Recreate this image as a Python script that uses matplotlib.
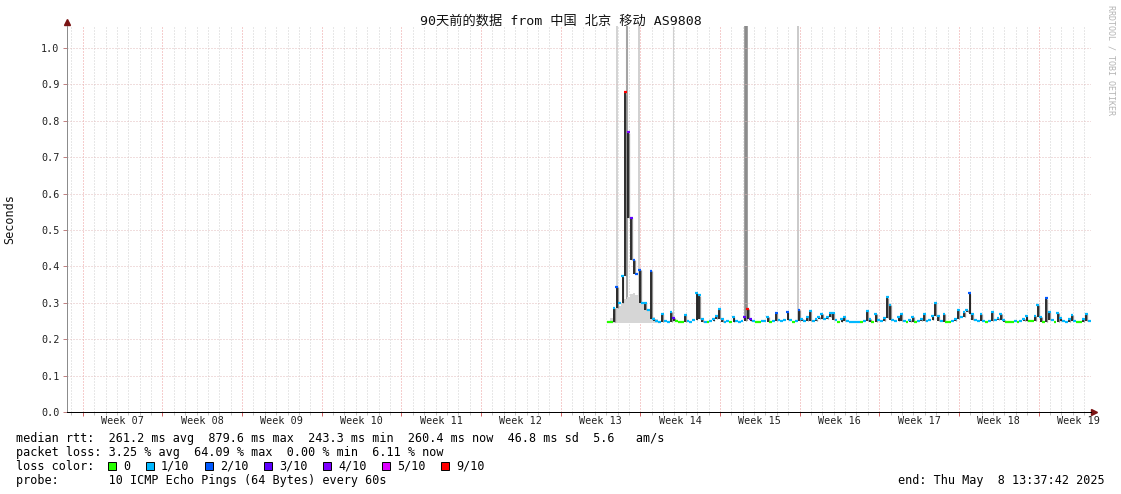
import matplotlib
matplotlib.use("Agg")
import matplotlib.pyplot as plt
from matplotlib.collections import LineCollection
from matplotlib.patches import Rectangle
from datetime import datetime, timedelta

W, H = 1121, 494
MONO = ['DejaVu Sans Mono', 'Noto Sans CJK SC']
FS = 8.5

# ---- data -------------------------------------------------------------
title = "90天前的数据 from 中国 北京 移动 AS9808"
end_time = datetime(2025, 5, 8, 13, 37, 42)
span_days = 90
first_sample = datetime(2025, 3, 27, 1, 37, 42)
sample_hours = 6

# median rtt (seconds), one value per 6h step
rtt_median = [
    0.247, 0.248, 0.286, 0.344, 0.300, 0.373, 0.879, 0.770, 0.534, 0.418,
    0.380, 0.390, 0.300, 0.300, 0.280, 0.388, 0.255, 0.250, 0.248, 0.270,
    0.250, 0.248, 0.275, 0.258, 0.250, 0.247, 0.248, 0.266, 0.250, 0.248,
    0.252, 0.327, 0.320, 0.255, 0.248, 0.247, 0.250, 0.255, 0.265, 0.283,
    0.255, 0.248, 0.250, 0.247, 0.262, 0.250, 0.248, 0.250, 0.262, 0.283,
    0.255, 0.250, 0.247, 0.247, 0.250, 0.250, 0.262, 0.247, 0.250, 0.272,
    0.252, 0.250, 0.252, 0.275, 0.252, 0.248, 0.250, 0.280, 0.255, 0.250,
    0.262, 0.277, 0.250, 0.256, 0.262, 0.270, 0.256, 0.262, 0.272, 0.272,
    0.252, 0.248, 0.255, 0.262, 0.250, 0.247, 0.247, 0.247, 0.247, 0.247,
    0.250, 0.278, 0.255, 0.248, 0.270, 0.252, 0.250, 0.258, 0.315, 0.295,
    0.252, 0.250, 0.262, 0.270, 0.250, 0.247, 0.252, 0.260, 0.248, 0.250,
    0.255, 0.270, 0.250, 0.252, 0.265, 0.300, 0.265, 0.250, 0.270, 0.248,
    0.248, 0.250, 0.255, 0.280, 0.260, 0.275, 0.280, 0.326, 0.270, 0.252,
    0.250, 0.270, 0.250, 0.247, 0.250, 0.275, 0.252, 0.258, 0.270, 0.252,
    0.247, 0.247, 0.247, 0.250, 0.248, 0.250, 0.255, 0.265, 0.250, 0.250,
    0.265, 0.294, 0.262, 0.248, 0.312, 0.275, 0.252, 0.248, 0.272, 0.258,
    0.250, 0.248, 0.255, 0.266, 0.250, 0.247, 0.247, 0.255, 0.270, 0.250,
]
# lost pings out of 10 for each step
loss_count = [
    0, 0, 1, 2, 1, 1, 9, 4, 3, 2,
    2, 2, 1, 1, 1, 2, 1, 1, 1, 1,
    1, 1, 1, 3, 0, 0, 0, 1, 1, 1,
    1, 1, 1, 1, 1, 0, 1, 1, 1, 1,
    1, 1, 1, 0, 1, 1, 1, 1, 3, 9,
    3, 1, 0, 0, 1, 1, 1, 0, 1, 2,
    1, 1, 1, 2, 1, 0, 1, 2, 1, 1,
    1, 1, 1, 1, 1, 1, 1, 1, 1, 1,
    1, 0, 1, 1, 1, 1, 1, 1, 1, 0,
    1, 1, 1, 0, 1, 1, 1, 1, 1, 1,
    1, 1, 1, 1, 1, 0, 1, 1, 0, 1,
    1, 1, 1, 1, 1, 1, 1, 1, 1, 0,
    0, 1, 1, 1, 1, 1, 1, 2, 1, 1,
    1, 1, 1, 0, 1, 1, 1, 1, 1, 1,
    0, 0, 0, 1, 0, 1, 1, 1, 0, 0,
    1, 1, 1, 0, 2, 1, 1, 0, 1, 1,
    1, 1, 1, 1, 1, 0, 0, 1, 1, 1,
]
# upper edge of the light smoke during the first unstable days
early_smoke = [0.250, 0.258, 0.270, 0.280, 0.290, 0.300, 0.310, 0.315, 0.325, 0.327,
               0.320, 0.317, 0.300, 0.290, 0.280, 0.270, 0.260, 0.255, 0.250]
# unknown data (hours after first sample)
unknown_hours = [21, 41.5, 67, 138.5, 292.5, 402]

loss_labels = ["0", "1/10", "2/10", "3/10", "4/10", "5/10", "9/10"]
loss_levels = [0, 1, 2, 3, 4, 5, 9]

median_line = "median rtt:  261.2 ms avg  879.6 ms max  243.3 ms min  260.4 ms now  46.8 ms sd  5.6   am/s"
loss_line = "packet loss: 3.25 % avg  64.09 % max  0.00 % min  6.11 % now"
probe_line = "probe:       10 ICMP Echo Pings (64 Bytes) every 60s"
end_line = "end: Thu May  8 13:37:42 2025"

# ---- styles -----------------------------------------------------------
loss_colors = {0: '#26ff00', 1: '#00b8ff', 2: '#0059ff', 3: '#5e00ff',
               4: '#7e00ff', 5: '#dd00ff', 9: '#ff0000'}
unknown_colors = ['#c8c8c8', '#a4a4a4', '#c4c4c4', '#d0d0d0', '#8c8c8c', '#bcbcbc']
unknown_widths = [1.1, 1.5, 1.1, 0.8, 2.6, 1.1]
WEEK_GRID = '#ec9c9c'
HOR_GRID = '#e2bcbc'
GRAY_GRID = '#d0d0d0'

start_time = end_time - timedelta(days=span_days)


def days(ts):
    return (ts - start_time).total_seconds() / 86400.0


fig = plt.figure(figsize=(W / 100, H / 100), dpi=100)
ax = fig.add_axes([66.5 / W, (H - 412) / H, 1024 / W, 386 / H])
ax.set_xlim(0, span_days)
ax.set_ylim(0, 1.06)

# grid: days (minor) and weeks starting Sunday (major)
day_ticks, week_ticks = [], []
d = datetime(start_time.year, start_time.month, start_time.day) + timedelta(days=1)
while d < end_time:
    if d.weekday() == 6:
        week_ticks.append(d)
    else:
        day_ticks.append(d)
    d += timedelta(days=1)

ax.set_xticks([days(w) for w in week_ticks])
ax.set_xticks([days(x) for x in day_ticks], minor=True)
ax.set_xticklabels([])
ax.tick_params(axis='x', which='major', length=3, width=0.7, color='#d06060')
ax.tick_params(axis='x', which='minor', length=2, width=0.7, color='#c0c0c0')
ax.grid(axis='x', which='minor', color=GRAY_GRID, lw=0.72, ls=(0, (1, 2)), zorder=0)
ax.grid(axis='x', which='major', color=WEEK_GRID, lw=0.72, ls=(0, (1, 2)), zorder=0)

yt = [i / 10 for i in range(11)]
ax.set_yticks(yt)
ax.set_yticklabels([f"{v:.1f}" for v in yt], fontfamily=MONO, fontsize=7.3, color='#222222')
ax.tick_params(axis='y', length=3, width=0.7, color='#c08080', pad=2)
ax.grid(axis='y', which='major', color=HOR_GRID, lw=0.72, ls=(0, (1, 2)), zorder=0)

for w in week_ticks:
    mid = w + timedelta(days=3.5)
    if mid < end_time:
        ax.text(days(mid), -9 / 386, "Week %02d" % mid.isocalendar()[1],
                transform=ax.get_xaxis_transform(), ha='center', va='center',
                fontfamily=MONO, fontsize=7.3, color='#222222')

for s in ('top', 'right'):
    ax.spines[s].set_visible(False)
ax.spines['left'].set_color('#8c8c8c')
ax.spines['left'].set_linewidth(0.72)
ax.spines['bottom'].set_color('#000000')
ax.spines['bottom'].set_linewidth(0.72)

# axis arrows
ax.plot([1, 1.0035], [0, 0], transform=ax.transAxes, color='black', lw=0.72, clip_on=False)
ax.plot([1.0035], [0], marker='>', ms=4, color='#7a1414', transform=ax.transAxes, clip_on=False)
ax.plot([0, 0], [1, 1.01], transform=ax.transAxes, color='#8c8c8c', lw=0.72, clip_on=False)
ax.plot([0], [1.0104], marker='^', ms=4, color='#7a1414', transform=ax.transAxes, clip_on=False)

# ---- series -----------------------------------------------------------
step = sample_hours / 24.0
t0 = days(first_sample)
n = len(rtt_median)
t = [t0 + i * step for i in range(n)]

for h, c, lw in zip(unknown_hours, unknown_colors, unknown_widths):
    ax.vlines(t0 + h / 24.0, 0.25, 1.06, color=c, lw=lw, zorder=1)

te = t[:len(early_smoke)] + [t[len(early_smoke) - 1] + step]
ax.fill_between(te, 0.244, early_smoke + [early_smoke[-1]], step='post',
                color='#d6d6d6', lw=0, zorder=2)

# spikes: thin dark bars rising from the neighbouring level
for i in range(n):
    lo = min(rtt_median[max(i - 1, 0)], rtt_median[min(i + 1, n - 1)])
    if rtt_median[i] > lo + 0.004:
        xm = t[i] + step / 2
        ax.vlines(xm + step * 0.3, lo, rtt_median[i] * 0.985 + lo * 0.015,
                  color='#909090', lw=0.9, zorder=2)
        ax.vlines(xm, lo, rtt_median[i], color='#1c1c1c', lw=1.3, zorder=3)

segs = [[(t[i], rtt_median[i]), (t[i] + step, rtt_median[i])] for i in range(n)]
cols = [loss_colors[k] for k in loss_count]
ax.add_collection(LineCollection(segs, colors=cols, linewidths=1.6, zorder=4,
                                 capstyle='butt'))

# ---- texts ------------------------------------------------------------
def fx(px):
    return px / W


def fy(py):
    return 1 - py / H


fig.text(fx(560.5), fy(21), title, ha='center', va='center',
         fontfamily=MONO, fontsize=9.5, color='#111111')
fig.text(fx(10), fy(219), "Seconds", rotation=90, ha='center', va='center',
         fontfamily=MONO, fontsize=FS, color='#111111')
fig.text(fx(1111), fy(5), "RRDTOOL / TOBI OETIKER", rotation=270, ha='center', va='top',
         fontfamily=MONO, fontsize=6, color='#b4b4b4')

fig.text(fx(16), fy(438), median_line, ha='left', va='center', fontfamily=MONO, fontsize=FS)
fig.text(fx(16), fy(452), loss_line, ha='left', va='center', fontfamily=MONO, fontsize=FS)
fig.text(fx(16), fy(466), "loss color:", ha='left', va='center', fontfamily=MONO, fontsize=FS)
fig.text(fx(16), fy(480), probe_line, ha='left', va='center', fontfamily=MONO, fontsize=FS)
fig.text(fx(1105), fy(480), end_line, ha='right', va='center', fontfamily=MONO, fontsize=FS)

x = 108
for lab, lvl in zip(loss_labels, loss_levels):
    fig.add_artist(Rectangle((fx(x), fy(470)), 8 / W, 8 / H, transform=fig.transFigure,
                             facecolor=loss_colors[lvl], edgecolor='#000000', lw=0.7))
    fig.text(fx(x + 15), fy(466), lab, ha='left', va='center', fontfamily=MONO, fontsize=FS)
    x += 15 + len(lab) * 7 + 16

fig.savefig("out.png", dpi=100)
